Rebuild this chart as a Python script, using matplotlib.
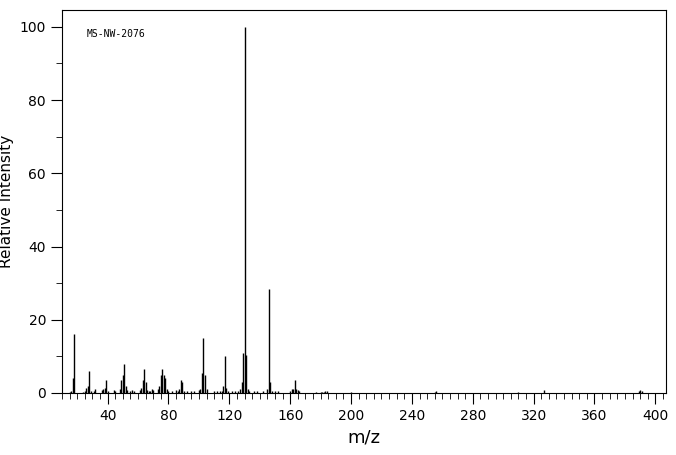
import matplotlib
matplotlib.use("Agg")
import matplotlib.pyplot as plt
from matplotlib.ticker import MultipleLocator

mz = [15,16,17,18,24,25,26,27,28,29,31,32,36,37,38,39,40,44,45,48,49,50,51,52,53,55,56,57,61,62,63,64,65,66,67,68,69,70,73,74,75,76,77,78,79,80,82,85,86,87,88,89,90,92,95,97,100,101,102,103,104,105,110,112,114,115,116,117,118,119,122,124,126,127,128,129,130,131,132,133,136,138,142,145,146,147,148,150,152,160,161,162,163,164,165,166,177,180,181,182,183,184,200,255,256,310,327,389,390,391]
inten = [0.3,0.5,4,16,0.3,0.5,1.5,2,6,0.5,0.5,1,0.8,1,1.5,3.5,0.5,0.7,0.5,1,3.5,5,8,2,0.7,0.5,0.8,0.5,0.8,1.5,3.5,6.5,3,0.8,0.5,0.5,1,0.7,1,2,5,6.5,5,4,1,0.5,0.6,0.8,0.6,1,3.5,3,0.6,0.6,0.5,0.6,0.7,1,5.5,15,5,1,0.5,0.6,0.5,0.6,2,10,1.5,0.5,0.5,0.5,0.5,1,3,11,100,10.5,1,0.5,0.5,0.5,0.5,1,28.5,3,0.6,0.5,0.5,0.5,1,1,3.5,1.2,0.7,0.5,0.3,0.3,0.4,0.4,0.5,0.6,0.3,0.3,0.5,0.3,0.8,0.6,0.8,0.5]

fig = plt.figure(figsize=(6.76, 4.55), dpi=100)
ax = fig.add_axes([62/676, 1-393/455, (666-62)/676, (393-10)/455])
ax.vlines(mz, 0, inten, color="black", linewidth=1)
ax.set_xlim(10, 407)
ax.set_ylim(0, 104.6)
ax.yaxis.set_major_locator(MultipleLocator(20))
ax.yaxis.set_minor_locator(MultipleLocator(10))
ax.xaxis.set_minor_locator(MultipleLocator(5))
ax.set_xticks(range(40, 401, 40))
ax.tick_params(which="major", length=8, labelsize=10)
ax.tick_params(which="minor", length=4)
ax.set_xlabel("m/z", fontsize=13)
ax.set_ylabel("Relative Intensity", fontsize=11, labelpad=4)
ax.text(0.04, 0.93, "MS-NW-2076", transform=ax.transAxes, fontsize=7, family="DejaVu Sans Mono")
fig.savefig("out.png", dpi=100)
